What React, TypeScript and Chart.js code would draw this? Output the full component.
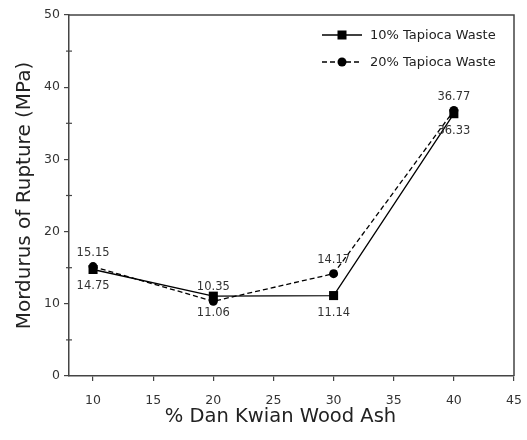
import { useEffect, useRef } from "react";
import { Chart, registerables } from "chart.js";
Chart.register(...registerables);

const xValues = [10, 20, 30, 40];
const series10 = [14.75, 11.06, 11.14, 36.33];
const series20 = [15.15, 10.35, 14.17, 36.77];
const seriesLabels = ["10% Tapioca Waste", "20% Tapioca Waste"];
const xTicks = [10, 15, 20, 25, 30, 35, 40, 45];
const yMinorTicks = [5, 15, 25, 35, 45];
const xTitle = "% Dan Kwian Wood Ash";
const yTitle = "Mordurus of Rupture (MPa)";

const FONT = "'DejaVu Sans', sans-serif";
const AXIS = "#444";

const extrasPlugin = {
  id: "extras",
  afterDatasetsDraw(chart: any) {
    const { ctx, chartArea } = chart;
    const { left, right, top, bottom } = chartArea;
    ctx.save();
    // frame top & right
    ctx.strokeStyle = AXIS;
    ctx.lineWidth = 1.5;
    ctx.beginPath();
    ctx.moveTo(left, top);
    ctx.lineTo(right, top);
    ctx.lineTo(right, bottom);
    ctx.stroke();
    // minor y ticks
    const ys = chart.scales.y;
    ctx.lineWidth = 1.2;
    yMinorTicks.forEach((v) => {
      const py = ys.getPixelForValue(v);
      ctx.beginPath();
      ctx.moveTo(left - 3, py);
      ctx.lineTo(left + 3, py);
      ctx.stroke();
    });
    // x axis title
    ctx.font = `19.5px ${FONT}`;
    ctx.fillStyle = "#222";
    ctx.textAlign = "center";
    ctx.textBaseline = "middle";
    ctx.fillText(xTitle, (left + right) / 2 - 11, 417);
    // data labels
    ctx.font = `11.5px ${FONT}`;
    ctx.fillStyle = "#333";
    chart.data.datasets.forEach((ds: any, di: number) => {
      const meta = chart.getDatasetMeta(di);
      meta.data.forEach((pt: any, i: number) => {
        const v = ds.data[i].y;
        const dy = di === 1 ? -14 : 17;
        ctx.fillText(v.toFixed(2), pt.x, pt.y + dy);
      });
    });
    // legend
    ctx.font = `13px ${FONT}`;
    ctx.textAlign = "left";
    chart.data.datasets.forEach((ds: any, di: number) => {
      const y = top + 20 + di * 27;
      const x0 = right - 192;
      const x1 = right - 152;
      ctx.strokeStyle = "#000";
      ctx.lineWidth = 1.3;
      ctx.setLineDash(di === 1 ? [5, 3] : []);
      ctx.beginPath();
      ctx.moveTo(x0, y);
      ctx.lineTo(x1, y);
      ctx.stroke();
      ctx.setLineDash([]);
      ctx.fillStyle = "#000";
      const cx = (x0 + x1) / 2;
      if (di === 0) {
        ctx.fillRect(cx - 4.5, y - 4.5, 9, 9);
      } else {
        ctx.beginPath();
        ctx.arc(cx, y, 4.5, 0, Math.PI * 2);
        ctx.fill();
      }
      ctx.fillStyle = "#222";
      ctx.fillText(ds.label, right - 144, y + 1);
    });
    ctx.restore();
  },
};

export default function App() {
  const ref = useRef<HTMLCanvasElement>(null);
  useEffect(() => {
    document.body.style.margin = "0";
    const chart = new Chart(ref.current as HTMLCanvasElement, {
      type: "line",
      data: {
        datasets: [
          {
            label: seriesLabels[0],
            data: xValues.map((x, i) => ({ x, y: series10[i] })),
            borderColor: "#000",
            backgroundColor: "#000",
            borderWidth: 1.3,
            pointStyle: "rect",
            pointRadius: 6.4,
            pointBorderWidth: 0,
            tension: 0,
          },
          {
            label: seriesLabels[1],
            data: xValues.map((x, i) => ({ x, y: series20[i] })),
            borderColor: "#000",
            backgroundColor: "#000",
            borderWidth: 1.3,
            borderDash: [5, 3],
            pointStyle: "circle",
            pointRadius: 4.5,
            pointBorderWidth: 0,
            tension: 0,
          },
        ],
      },
      options: {
        responsive: false,
        animation: false,
        layout: { padding: { top: 15, right: 13, left: 0, bottom: 0 } },
        plugins: { legend: { display: false }, tooltip: { enabled: false } },
        scales: {
          x: {
            type: "linear",
            min: 8,
            max: 45,
            afterBuildTicks: (s: any) => {
              s.ticks = xTicks.map((v) => ({ value: v }));
            },
            afterFit: (s: any) => {
              s.height = 64;
              s.paddingRight = 0;
              s.paddingLeft = 0;
            },
            grid: { drawOnChartArea: false, drawTicks: true, tickLength: 5, color: AXIS, lineWidth: 1.2 },
            border: { display: true, color: AXIS, width: 1.5 },
            ticks: { font: { family: FONT, size: 12.5 }, color: "#333", padding: 12, maxRotation: 0 },
            title: { display: false, text: xTitle },
          },
          y: {
            min: 0,
            max: 50,
            ticks: { stepSize: 10, font: { family: FONT, size: 12.5 }, color: "#333", padding: 4 },
            afterFit: (s: any) => {
              s.width = 69;
              s.paddingTop = 0;
              s.paddingBottom = 0;
            },
            grid: { drawOnChartArea: false, drawTicks: true, tickLength: 5, color: AXIS, lineWidth: 1.2 },
            border: { display: true, color: AXIS, width: 1.5 },
            title: {
              display: true,
              text: yTitle,
              font: { family: FONT, size: 20, lineHeight: 1.2 },
              color: "#222",
              padding: { top: 13, bottom: 0 },
            },
          },
        },
      },
      plugins: [extrasPlugin],
    });
    return () => chart.destroy();
  }, []);
  return (
    <div style={{ position: "absolute", left: 0, top: 0, width: 527, height: 440 }}>
      <canvas ref={ref} width={527} height={440} />
    </div>
  );
}
